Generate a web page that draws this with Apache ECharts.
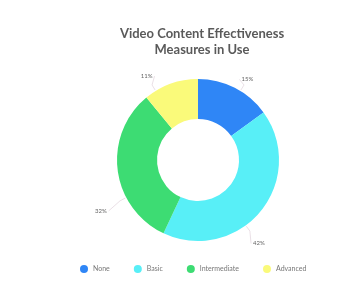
<!DOCTYPE html>
<html><head><meta charset="utf-8">
<script src="https://cdn.jsdelivr.net/npm/echarts@6/dist/echarts.min.js"></script>
<style>html,body{margin:0;padding:0;background:#fff}#c{width:359px;height:299px}</style>
</head><body><div id="c"></div>
<script>
const categories = ['None', 'Basic', 'Intermediate', 'Advanced'];
const values = [15, 42, 32, 11];
const colors = ['#2f86f6', '#58eff7', '#3ddc73', '#fafa7a'];
const titleText = 'Video Content Effectiveness\nMeasures in Use';
// small label nudges (style only)
const labelNudge = [[-7, -3], [-23, 28], [6, 40], [-5, -2]];
const pieCenter = [198, 160];
const outerR = 81;

const chart = echarts.init(document.getElementById('c'));
chart.setOption({
  animation: false,
  title: {
    text: titleText, left: 197, top: 21, textAlign: 'center',
    textStyle: {fontFamily: 'Lato', fontWeight: 'bold', fontSize: 13, color: '#5a5a5a', lineHeight: 16}
  },
  legend: {
    data: categories, bottom: 21, left: 75, icon: 'circle',
    itemWidth: 8, itemHeight: 8, itemGap: 24,
    textStyle: {fontFamily: 'Lato', fontSize: 7, color: '#777'}
  },
  series: [{
    type: 'pie', center: pieCenter, radius: [41, outerR],
    startAngle: 90, clockwise: true,
    label: {formatter: '{d}%', fontFamily: 'Lato', fontSize: 6, color: '#666'},
    labelLine: {length: 6, length2: 6, lineStyle: {color: '#e4d8e0', width: 0.8}},
    labelLayout: function (p) {
      const n = labelNudge[p.dataIndex] || [0, 0];
      const r = p.labelRect;
      const lx = r.x + n[0], ly = r.y + n[1];
      const cx = lx + r.width / 2, cy = ly + r.height / 2;
      const vx = cx - pieCenter[0], vy = cy - pieCenter[1];
      const len = Math.sqrt(vx * vx + vy * vy);
      const ux = vx / len, uy = vy / len;
      const p0 = [pieCenter[0] + ux * (outerR + 1), pieCenter[1] + uy * (outerR + 1)];
      const p1 = [pieCenter[0] + ux * (outerR + 7), pieCenter[1] + uy * (outerR + 7)];
      const right = vx > 0;
      const p2 = [right ? lx - 2 : lx + r.width + 2, cy];
      return {dx: n[0], dy: n[1], labelLinePoints: [p0, p1, p2]};
    },
    data: categories.map((n, i) => ({name: n, value: values[i], itemStyle: {color: colors[i]}}))
  }]
});
</script></body></html>
